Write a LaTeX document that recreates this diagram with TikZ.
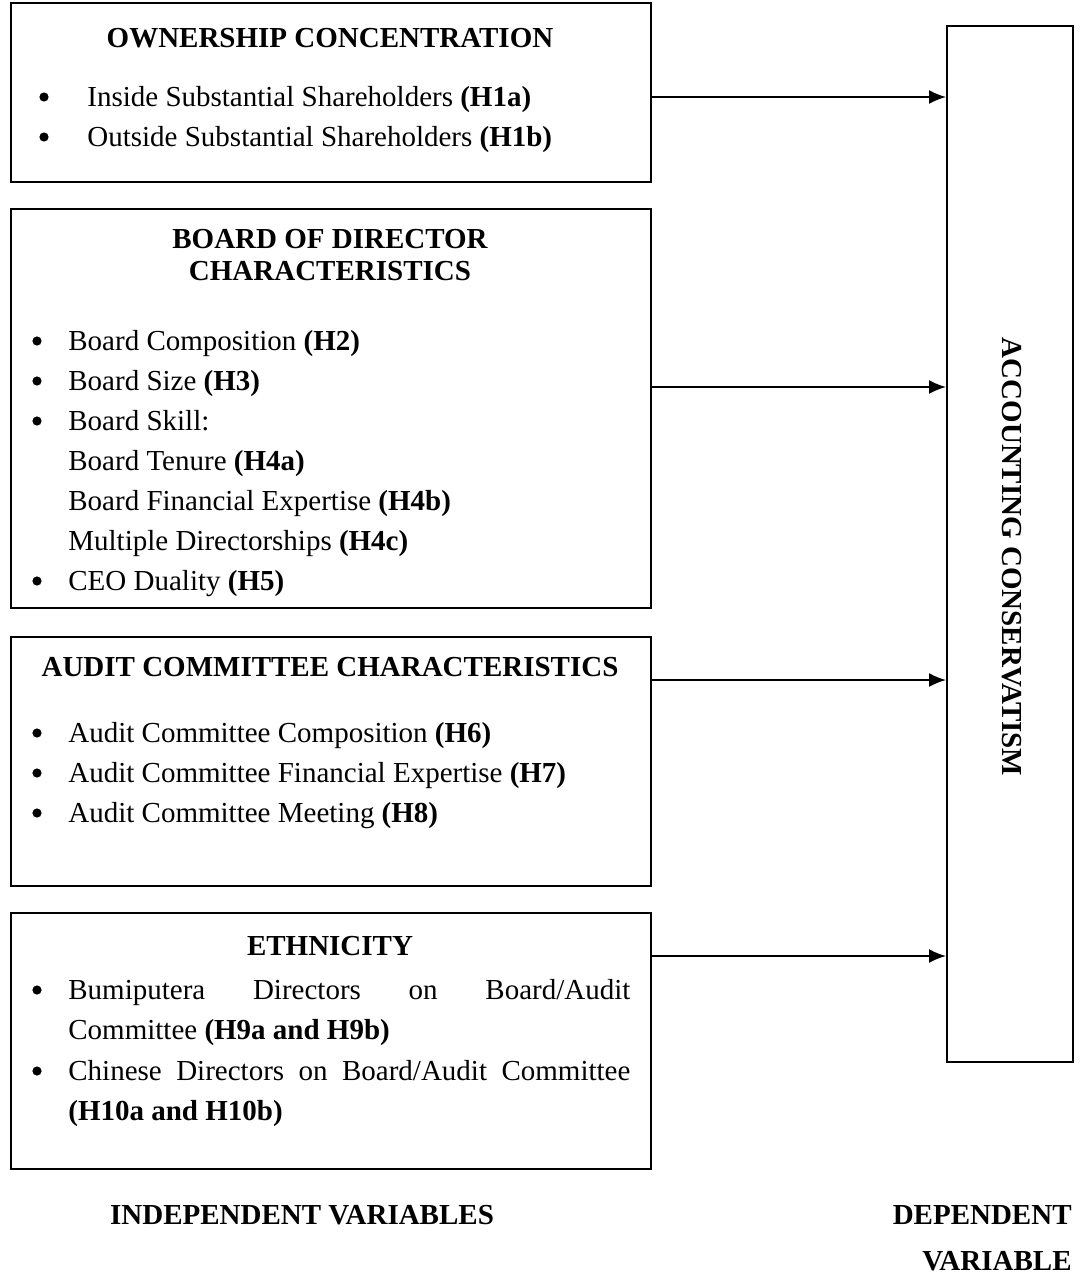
\documentclass[tikz,border=0pt]{standalone}
\usepackage{fontspec}
\setmainfont{Liberation Serif}
\usetikzlibrary{arrows.meta}

\begin{document}
\begin{tikzpicture}[x=0.5pt, y=-0.5pt,
    varbox/.style={draw, line width=1pt, anchor=north west, inner sep=0pt},
    head/.style={font=\bfseries, anchor=base, inner sep=0pt},
    item/.style={anchor=base west, inner sep=0pt},
    dot/.style={circle, fill, inner sep=0pt, minimum size=4.6pt},
    arr/.style={-{Latex[length=8.5pt,width=7pt]}, line width=0.9pt}]
    \fontsize{14.5}{18}\selectfont
    \useasboundingbox (0,0) rectangle (1091,1274);

    % Independent variable boxes
    \node[varbox, minimum width=320pt, minimum height=89.5pt] (own) at (10,2) {};
    \node[varbox, minimum width=320pt, minimum height=199.5pt] (bod) at (10,208) {};
    \node[varbox, minimum width=320pt, minimum height=124.5pt] (aud) at (10,636) {};
    \node[varbox, minimum width=320pt, minimum height=128pt] (eth) at (10,912) {};

    % Dependent variable box
    \node[varbox, minimum width=63pt, minimum height=518pt] (dv) at (946,25) {};
    \node[font=\bfseries, rotate=-90, inner sep=0pt] (dvt) at (1012,557) {ACCOUNTING CONSERVATISM};

    % Ownership concentration
    \node[head] (ownt) at (330,47) {OWNERSHIP CONCENTRATION};
    \node[dot] (d11) at (44,97) {};
    \node[item] (i11) at (87,106) {Inside Substantial Shareholders \textbf{(H1a)}};
    \node[dot] (d12) at (44,137) {};
    \node[item] (i12) at (87,146) {Outside Substantial Shareholders \textbf{(H1b)}};

    % Board of director characteristics
    \node[head] (bodt1) at (330,248) {BOARD OF DIRECTOR};
    \node[head] (bodt2) at (330,280) {CHARACTERISTICS};
    \node[dot] (d21) at (37,341) {};
    \node[item] (i21) at (68,350) {Board Composition \textbf{(H2)}};
    \node[dot] (d22) at (37,381) {};
    \node[item] (i22) at (68,390) {Board Size \textbf{(H3)}};
    \node[dot] (d23) at (37,421) {};
    \node[item] (i23) at (68,430) {Board Skill:};
    \node[item] (i24) at (68,470) {Board Tenure \textbf{(H4a)}};
    \node[item] (i25) at (68,510) {Board Financial Expertise \textbf{(H4b)}};
    \node[item] (i26) at (68,550) {Multiple Directorships \textbf{(H4c)}};
    \node[dot] (d27) at (37,581) {};
    \node[item] (i27) at (68,590) {CEO Duality \textbf{(H5)}};

    % Audit committee characteristics
    \node[head] (audt) at (330,676) {AUDIT COMMITTEE CHARACTERISTICS};
    \node[dot] (d31) at (37,733) {};
    \node[item] (i31) at (68,742) {Audit Committee Composition \textbf{(H6)}};
    \node[dot] (d32) at (37,773) {};
    \node[item] (i32) at (68,782) {Audit Committee Financial Expertise \textbf{(H7)}};
    \node[dot] (d33) at (37,813) {};
    \node[item] (i33) at (68,822) {Audit Committee Meeting \textbf{(H8)}};

    % Ethnicity
    \node[head] (etht) at (330,955) {ETHNICITY};
    \node[dot] (d41) at (37,990) {};
    \node[item] (i41) at (68,999) {\makebox[281pt][s]{Bumiputera Directors on Board/Audit}};
    \node[item] (i42) at (68,1039) {Committee \textbf{(H9a and H9b)}};
    \node[dot] (d43) at (37,1071) {};
    \node[item] (i43) at (68,1080) {\makebox[281pt][s]{Chinese Directors on Board/Audit Committee}};
    \node[item] (i44) at (68,1120) {\textbf{(H10a and H10b)}};

    % Arrows into the dependent variable
    \coordinate (a1) at (650,97);
    \coordinate (a2) at (650,387);
    \coordinate (a3) at (650,680);
    \coordinate (a4) at (650,956);
    \draw[arr] (a1) -- (a1 -| dv.west);
    \draw[arr] (a2) -- (a2 -| dv.west);
    \draw[arr] (a3) -- (a3 -| dv.west);
    \draw[arr] (a4) -- (a4 -| dv.west);

    % Captions
    \node[head] (ivl) at (302,1224) {INDEPENDENT VARIABLES};
    \node[font=\bfseries, anchor=base east, inner sep=0pt] (dvl1) at (1072,1224) {DEPENDENT};
    \node[font=\bfseries, anchor=base east, inner sep=0pt] (dvl2) at (1072,1270) {VARIABLE};
\end{tikzpicture}
\end{document}
